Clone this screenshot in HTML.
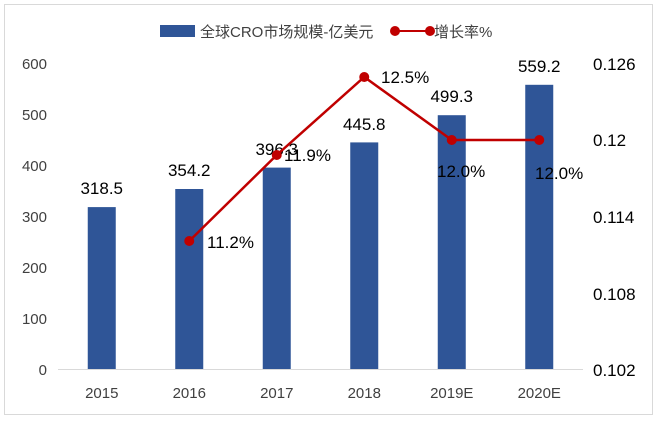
<!DOCTYPE html>
<html><head><meta charset="utf-8"><style>
body{margin:0;background:#fff}
text{font-family:"Liberation Sans","Noto Sans CJK SC",sans-serif}
</style></head><body>
<svg width="659" height="420" xmlns="http://www.w3.org/2000/svg">
<rect x="4.5" y="4.5" width="648" height="410" fill="#fff" stroke="#d9d9d9"/>
<!-- legend -->
<rect x="160" y="25" width="35" height="12" fill="#2f5597"/>
<text x="200" y="37" font-size="15" fill="#404040">全球CRO市场规模-亿美元</text>
<line x1="395" y1="31" x2="430" y2="31" stroke="#c00000" stroke-width="2"/>
<circle cx="395" cy="31" r="5" fill="#c00000"/><circle cx="430" cy="31" r="5" fill="#c00000"/>
<text x="434" y="37" font-size="15" fill="#404040">增长率%</text>
<!-- axis -->
<line x1="58" y1="369.5" x2="583" y2="369.5" stroke="#d9d9d9"/>
<g font-size="15" fill="#404040" text-anchor="end">
<text x="47" y="375">0</text><text x="47" y="324">100</text><text x="47" y="273">200</text>
<text x="47" y="222">300</text><text x="47" y="171">400</text><text x="47" y="120">500</text><text x="47" y="69">600</text>
</g>
<g font-size="17" fill="#000" text-anchor="start">
<text x="593" y="376">0.102</text><text x="593" y="300">0.108</text><text x="593" y="223">0.114</text>
<text x="593" y="146">0.12</text><text x="593" y="70">0.126</text>
</g>
<g font-size="15" fill="#404040" text-anchor="middle">
<text x="101.75" y="398">2015</text><text x="189.25" y="398">2016</text><text x="276.75" y="398">2017</text>
<text x="364.25" y="398">2018</text><text x="451.75" y="398">2019E</text><text x="539.25" y="398">2020E</text>
</g>
<!-- bars -->
<g fill="#2f5597">
<rect x="87.75" y="207.1" width="28" height="161.9"/>
<rect x="175.25" y="189" width="28" height="180"/>
<rect x="262.75" y="167.6" width="28" height="201.4"/>
<rect x="350.25" y="142.4" width="28" height="226.6"/>
<rect x="437.75" y="115.2" width="28" height="253.8"/>
<rect x="525.25" y="84.8" width="28" height="284.2"/>
</g>
<g font-size="17" fill="#000" text-anchor="middle">
<text x="101.75" y="194">318.5</text><text x="189.25" y="176">354.2</text><text x="276.75" y="155">396.3</text>
<text x="364.25" y="130">445.8</text><text x="451.75" y="102">499.3</text><text x="539.25" y="72">559.2</text>
</g>
<!-- line -->
<polyline points="189.25,241 276.75,155 364.25,77 451.75,140 539.25,140" fill="none" stroke="#c00000" stroke-width="2.5"/>
<g fill="#c00000">
<circle cx="189.25" cy="241" r="5"/><circle cx="276.75" cy="155" r="5"/><circle cx="364.25" cy="77" r="5"/>
<circle cx="451.75" cy="140" r="5"/><circle cx="539.25" cy="140" r="5"/>
</g>
<g font-size="17" fill="#000">
<text x="207" y="248">11.2%</text><text x="284" y="161">11.9%</text><text x="381" y="83">12.5%</text>
<text x="437" y="177">12.0%</text><text x="535" y="179">12.0%</text>
</g>
</svg>
</body></html>
